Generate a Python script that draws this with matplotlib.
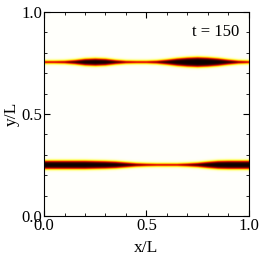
import numpy as np
import matplotlib.pyplot as plt
from matplotlib.ticker import MultipleLocator

plt.rcParams['font.family'] = ['Liberation Serif', 'DejaVu Serif']
plt.rcParams['mathtext.fontset'] = 'stix'

# band centres (y/L) and half-widths read along x/L
x_pts = np.array([0.00, 0.05, 0.10, 0.15, 0.20, 0.25, 0.30, 0.35, 0.40, 0.45, 0.50,
                  0.55, 0.60, 0.65, 0.70, 0.75, 0.80, 0.85, 0.90, 0.95, 1.00])
y_upper = 0.755
w_upper = np.array([0.004, 0.004, 0.005, 0.009, 0.015, 0.017, 0.015, 0.009, 0.005, 0.004, 0.004,
                    0.006, 0.011, 0.017, 0.021, 0.023, 0.021, 0.017, 0.011, 0.006, 0.004])
y_lower = 0.250
w_lower = np.array([0.019, 0.019, 0.019, 0.019, 0.019, 0.018, 0.017, 0.015, 0.011, 0.007, 0.005,
                    0.004, 0.004, 0.004, 0.006, 0.009, 0.014, 0.018, 0.019, 0.019, 0.019])
t_label = "t = 150"

nx, ny = 400, 400
xg = np.linspace(0, 1, nx)
yg = np.linspace(0, 1, ny)
X, Y = np.meshgrid(xg, yg)

eps = 0.007
field = np.zeros_like(X)
for y0, w in [(y_upper, w_upper), (y_lower, w_lower)]:
    wx = np.interp(xg, x_pts, w)[None, :]
    field += 0.5 * (1 - np.tanh((np.abs(Y - y0) - wx) / eps))
field = np.clip(field + 0.004, 0, 1)

fig = plt.figure(figsize=(2.62, 2.62), dpi=100)
ax = fig.add_axes([0.168, 0.176, 0.782, 0.778])
ax.imshow(field, cmap='hot_r', origin='lower', extent=[0, 1, 0, 1],
          aspect='auto', vmin=0, vmax=1, interpolation='bilinear')

ax.set_xlim(0, 1)
ax.set_ylim(0, 1)
ax.xaxis.set_major_locator(MultipleLocator(0.5))
ax.yaxis.set_major_locator(MultipleLocator(0.5))
ax.xaxis.set_minor_locator(MultipleLocator(0.1))
ax.yaxis.set_minor_locator(MultipleLocator(0.1))
ax.tick_params(which='both', direction='in', top=True, right=True, labelsize=12, pad=1.5)
ax.tick_params(which='major', length=4, width=0.8)
ax.tick_params(which='minor', length=2.5, width=0.6)

ax.set_xlabel("x/L", fontsize=12.5, labelpad=4)
ax.set_ylabel("y/L", fontsize=12.5, labelpad=1)
ax.text(0.955, 0.90, t_label, transform=ax.transAxes, ha='right', va='center', fontsize=12)

fig.savefig("out.png", dpi=100)
